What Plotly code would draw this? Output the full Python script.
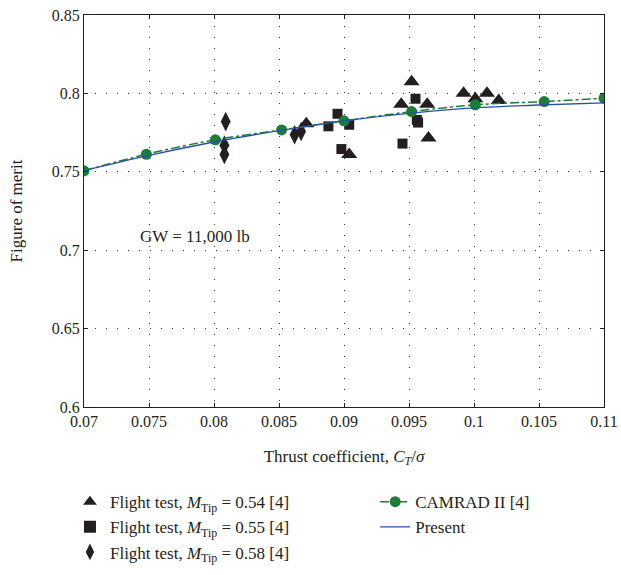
import plotly.graph_objects as go

# Flight test, M_Tip = 0.54
tri_x = [0.0952, 0.0944, 0.0964, 0.0965, 0.0992, 0.1001, 0.1010, 0.1019, 0.0904, 0.0871]
tri_y = [0.8075, 0.7931, 0.7931, 0.7715, 0.8001, 0.7966, 0.8001, 0.7954, 0.7610, 0.7806]
# Flight test, M_Tip = 0.55
sq_x = [0.0895, 0.0888, 0.0904, 0.0898, 0.0955, 0.0956, 0.0957, 0.0945]
sq_y = [0.7870, 0.7790, 0.7800, 0.7645, 0.7966, 0.7831, 0.7814, 0.7680]
# Flight test, M_Tip = 0.58
dia_x = [0.0809, 0.0808, 0.0808, 0.0862, 0.0867]
dia_y = [0.7820, 0.7670, 0.7610, 0.7736, 0.7757]
# CAMRAD II
cam_x = [0.0700, 0.0748, 0.0801, 0.0852, 0.0900, 0.0952, 0.1001, 0.1054, 0.1100]
cam_y = [0.7506, 0.7612, 0.7704, 0.7767, 0.7825, 0.7884, 0.7927, 0.7948, 0.7969]
# Present
pre_x = [0.070, 0.075, 0.080, 0.085, 0.090, 0.095, 0.100, 0.105, 0.110]
pre_y = [0.7508, 0.7605, 0.7690, 0.7762, 0.7825, 0.7873, 0.7908, 0.7926, 0.7940]

x_ticks = [0.07, 0.075, 0.08, 0.085, 0.09, 0.095, 0.1, 0.105, 0.11]
x_labels = ["0.07", "0.075", "0.08", "0.085", "0.09", "0.095", "0.1", "0.105", "0.11"]
y_ticks = [0.6, 0.65, 0.7, 0.75, 0.8, 0.85]
y_labels = ["0.6", "0.65", "0.7", "0.75", "0.8", "0.85"]

FONT = "Liberation Serif"
BLACK = "#231f20"
GREEN = "#1b7d3a"
BLUE = "#2c4fa6"

fig = go.Figure()
fig.add_trace(go.Scatter(x=tri_x, y=tri_y, mode="markers", legend="legend", legendgroup="a",
                         name="Flight test, <i>M</i><sub>Tip</sub> = 0.54 [4]",
                         marker=dict(symbol="triangle-up", size=14, color=BLACK)))
fig.add_trace(go.Scatter(x=sq_x, y=sq_y, mode="markers", legend="legend", legendgroup="b",
                         name="Flight test, <i>M</i><sub>Tip</sub> = 0.55 [4]",
                         marker=dict(symbol="square", size=10, color=BLACK)))
fig.add_trace(go.Scatter(x=dia_x, y=dia_y, mode="markers", legend="legend", legendgroup="c",
                         name="Flight test, <i>M</i><sub>Tip</sub> = 0.58 [4]",
                         marker=dict(symbol="diamond-tall", size=14, color=BLACK)))
fig.add_trace(go.Scatter(x=cam_x, y=cam_y, mode="lines+markers", legend="legend2", legendgroup="d",
                         name="CAMRAD II [4]", line=dict(color=GREEN, width=1.5, dash="dashdot", shape="spline"),
                         marker=dict(symbol="circle", size=11, color=GREEN)))
fig.add_trace(go.Scatter(x=pre_x, y=pre_y, mode="lines", legend="legend2", legendgroup="e",
                         name="Present", line=dict(color=BLUE, width=1.3, shape="spline")))

fig.add_annotation(x=0.0785, y=0.709, text="GW = 11,000 lb", showarrow=False,
                   font=dict(family=FONT, size=17, color=BLACK))

axis_common = dict(showline=True, linecolor=BLACK, linewidth=1.2, mirror="ticks",
                   ticks="inside", ticklen=4, tickcolor=BLACK, automargin=False,
                   showgrid=True, gridcolor="#444444", gridwidth=1, griddash="1px,10px",
                   zeroline=False, tickfont=dict(family=FONT, size=16, color=BLACK))

fig.update_xaxes(range=[0.07, 0.11], tickvals=x_ticks, ticktext=x_labels,
                 title=dict(text="Thrust coefficient, <i>C</i><sub><i>T</i></sub>/<i>σ</i>",
                            font=dict(family=FONT, size=17, color=BLACK), standoff=20),
                 **axis_common)
fig.update_yaxes(range=[0.6, 0.85], tickvals=y_ticks, ticktext=y_labels,
                 title=dict(text="Figure of merit", font=dict(family=FONT, size=17, color=BLACK), standoff=24),
                 **axis_common)

leg_common = dict(orientation="v", xanchor="left", yanchor="top", traceorder="normal",
                  tracegroupgap=6, yref="container", y=0.158,
                  font=dict(family=FONT, size=17, color=BLACK), bgcolor="rgba(0,0,0,0)")

fig.update_layout(
    width=621, height=575,
    margin=dict(l=84, r=17, t=15, b=168, autoexpand=False),
    plot_bgcolor="white", paper_bgcolor="white",
    font=dict(family=FONT, size=16, color=BLACK),
    legend=dict(x=-0.027, itemsizing="constant", **leg_common),
    legend2=dict(x=0.560, itemsizing="trace", **leg_common),
    showlegend=True,
)

# remove the default 8px page margin so the 621x575 figure fills the window exactly
fig.write_html("out.html", config={"displayModeBar": False},
               post_script="document.body.style.margin='0px';document.body.style.overflow='hidden';")
